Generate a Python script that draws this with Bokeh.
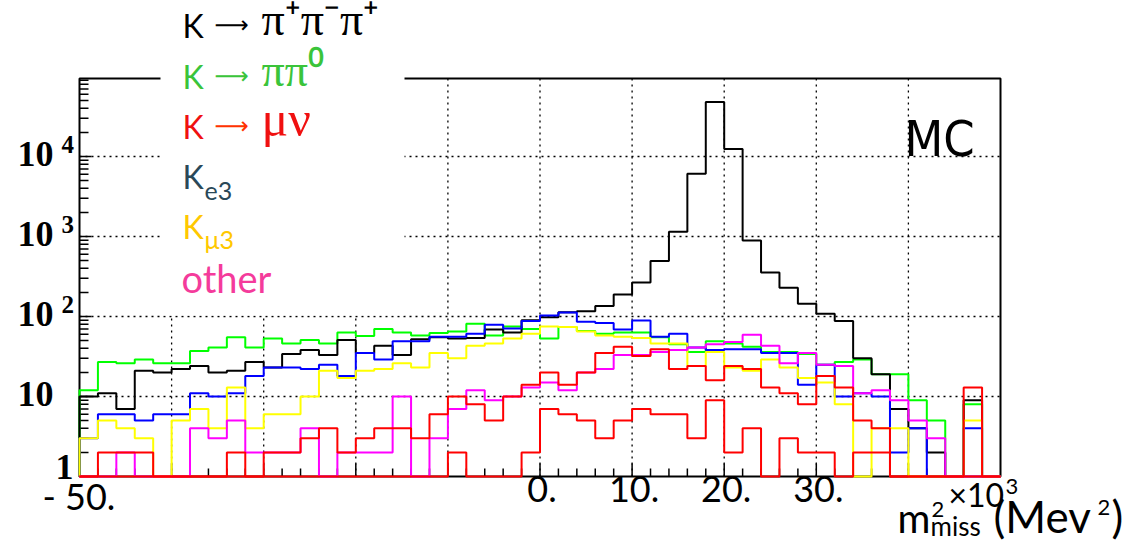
import numpy as np
from bokeh.plotting import figure
from bokeh.models import Range1d, Label, BoxAnnotation
from bokeh.embed import file_html
from bokeh.resources import INLINE

# ---------------- data (bin contents, 50 bins from -50 to 50, x10^3 MeV^2) -------------
BIN_LO, BIN_HI, N_BINS = -50.0, 50.0, 50

k3pi = [10, 11, 7, 21, 20, 22, 24, 20, 21, 27,
        23, 34, 38, 33, 51, 35, 43, 33, 52, 55,
        53, 54, 69, 63, 90, 98, 113, 116, 135, 189,
        267, 495, 1150, 6100, 48000, 12400, 890, 355, 228, 144,
        108, 88, 30, 19, 7, 4, 2, 0, 9, 0]
k2pi = [12, 27, 26, 29, 26, 26, 37, 41, 55, 41,
        53, 46, 51, 46, 63, 57, 70, 63, 58, 62,
        65, 81, 58, 75, 70, 53, 74, 66, 61, 63,
        63, 55, 45, 36, 49, 46, 42, 36, 36, 34,
        25, 27, 29, 19, 19, 9, 5, 0, 8, 0]
ke3 = [3, 6, 6, 5, 6, 6, 11, 10, 11, 18,
       23, 23, 22, 25, 18, 35, 29, 49, 49, 56,
       56, 61, 79, 71, 88, 103, 112, 86, 83, 69,
       89, 56, 61, 41, 38, 39, 39, 35, 35, 14,
       25, 10, 11, 10, 2, 4, 0, 0, 4, 0]
kmu3 = [3, 5, 4, 3, 0, 5, 7, 4, 13, 4,
        6, 6, 10, 21, 17, 21, 22, 26, 23, 35,
        30, 43, 46, 53, 61, 75, 74, 65, 58, 56,
        54, 46, 46, 24, 36, 23, 21, 29, 23, 17,
        15, 8, 0, 4, 4, 0, 0, 0, 5, 0]
other = [0, 0, 2, 0, 0, 0, 4, 3, 5, 2,
         2, 2, 4, 0, 2, 2, 2, 10, 0, 3,
         7, 12, 9, 10, 13, 15, 12, 20, 22, 33,
         33, 36, 38, 41, 45, 48, 59, 43, 26, 35,
         25, 24, 11, 12, 9, 5, 3, 0, 0, 0]
kmunu = [0, 2, 2, 2, 0, 0, 0, 0, 2, 0,
         2, 2, 3, 4, 2, 3, 4, 4, 3, 6,
         10, 8, 5, 10, 14, 20, 14, 20, 35, 42,
         32, 39, 22, 24, 16, 24, 22, 13, 11, 8,
         18, 13, 5, 4, 0, 0, 0, 0, 13, 0]
kmunu_b = [0, 0, 0, 0, 0, 0, 0, 0, 0, 0,
           0, 0, 0, 0, 0, 0, 0, 0, 0, 0,
           2, 0, 0, 0, 2, 7, 6, 5, 3, 5,
           7, 6, 6, 3, 9, 2, 4, 0, 3, 2,
           2, 0, 2, 2, 0, 0, 0, 0, 0, 0]

x_major = [-50, -40, -30, -20, -10, 0, 10, 20, 30, 40, 50]
x_minor = list(range(-50, 51, 2))
x_tick_labels = {-50: "- 50.", 0: "0.", 10: "10.", 20: "20.", 30: "30."}
y_major = [1, 10, 100, 1000, 10000]
y_minor = [m * 10 ** k for k in range(0, 5) for m in range(2, 10)]
y_exp_labels = {10: "", 100: "2", 1000: "3", 10000: "4"}

Y_MIN, Y_MAX = 1.0, 10 ** 4.975

# ---------------- layout (pixel box of the histogram frame) ----------------
W, H = 1147, 542
FL, FR, FT, FB = 79, 1000, 78, 476
LOG_SPAN = float(np.log10(Y_MAX / Y_MIN))


def X(px):
    return float(BIN_LO + (px - FL) * (BIN_HI - BIN_LO) / (FR - FL))


def Y(py):
    return float(Y_MIN * 10 ** ((FB - py) * LOG_SPAN / (FB - FT)))


def PY(v):
    return FB - (FB - FT) * float(np.log10(v / Y_MIN)) / LOG_SPAN


def PX(v):
    return FL + (v - BIN_LO) * (FR - FL) / (BIN_HI - BIN_LO)


# the plot area spans the whole page; the histogram frame is drawn inside it
p = figure(width=W, height=H, x_range=Range1d(X(0), X(W)),
           y_range=Range1d(Y(H), Y(0)), y_axis_type="log",
           x_axis_location=None, y_axis_location=None,
           output_backend="svg", toolbar_location=None, min_border=0)
p.background_fill_color = "white"
p.border_fill_color = "white"
p.outline_line_color = None
p.xgrid.visible = False
p.ygrid.visible = False

# dotted grid
gx = x_major[1:-1]
gy = y_major[1:]
p.segment(x0=gx, y0=[Y_MIN] * len(gx), x1=gx, y1=[Y_MAX] * len(gx),
          line_color="black", line_dash="2 4", line_width=1.3)
p.segment(x0=[BIN_LO] * len(gy), y0=gy, x1=[BIN_HI] * len(gy), y1=gy,
          line_color="black", line_dash="2 4", line_width=1.3)

# frame
p.quad(left=[BIN_LO], right=[BIN_HI], bottom=[Y_MIN], top=[Y_MAX],
       fill_color=None, line_color="black", line_width=2)

# inward ticks (ROOT style)
yt_maj = [v for v in y_major if v > Y_MIN]
yt_min = [v for v in y_minor if v < Y_MAX]
p.segment(x0=[BIN_LO] * len(yt_maj), y0=yt_maj, x1=[X(FL + 12)] * len(yt_maj), y1=yt_maj,
          line_color="black", line_width=1.5)
p.segment(x0=[BIN_LO] * len(yt_min), y0=yt_min, x1=[X(FL + 9)] * len(yt_min), y1=yt_min,
          line_color="black", line_width=1.5)
xt_maj = x_major[1:-1]
xt_min = [v for v in x_minor if v not in x_major]
p.segment(x0=xt_maj, y0=[Y_MIN] * len(xt_maj), x1=xt_maj, y1=[Y(FB - 13)] * len(xt_maj),
          line_color="black", line_width=1.5)
p.segment(x0=xt_min, y0=[Y_MIN] * len(xt_min), x1=xt_min, y1=[Y(FB - 8)] * len(xt_min),
          line_color="black", line_width=1.5)

# ---------------- histograms ----------------
edges = np.linspace(BIN_LO, BIN_HI, N_BINS + 1)


def outline(vals):
    v = np.asarray(vals, dtype=float)
    v = np.where(v > 0, v, Y_MIN)
    xs = np.repeat(edges, 2)
    ys = np.concatenate([[Y_MIN], np.repeat(v, 2), [Y_MIN]])
    return xs, ys


series = [(k2pi, "#00ff00"), (k3pi, "#000000"), (ke3, "#0000ff"),
          (kmu3, "#ffff00"), (other, "#ff00ff"), (kmunu, "#ff0000"),
          (kmunu_b, "#ff0000")]
for vals, col in series:
    xs, ys = outline(vals)
    p.line(xs, ys, line_color=col, line_width=2)

# white box of the overlaid legend (hides grid and frame there)
p.add_layout(BoxAnnotation(left=X(160), right=X(404), bottom=Y(315), top=Y(60),
                           fill_color="white", fill_alpha=1.0, line_color=None))

BASE_SHIFT = 0.39  # em: where the renderer puts the alphabetic baseline below the anchor


def lab(text, px, py, size, color="black", font="Lato", style="normal",
        align="left"):
    """py is the wanted baseline in page pixels"""
    p.add_layout(Label(x=X(px), y=Y(py - BASE_SHIFT * size), text=text, text_font=font,
                       text_font_size=f"{size}px", text_color=color,
                       text_font_style=style, text_align=align,
                       text_baseline="alphabetic"))


# y tick labels (ROOT style, bold serif)
lab("1", 55, 481, 36, font="Liberation Serif", style="bold")
for v, e in y_exp_labels.items():
    py = PY(v)
    lab("10", 17, py + 12, 36, font="Liberation Serif", style="bold")
    if e:
        lab(e, 61, py - 2, 25, font="Liberation Serif", style="bold")

# x tick labels
for v, t in x_tick_labels.items():
    if v == BIN_LO:
        lab(t, 42, 510, 36)
    else:
        lab(t, PX(v) + 2, 503, 36, align="center")

# axis exponent and title
lab("\u00d710", 948, 506, 32)
lab("3", 1005, 495, 22)
lab("m", 897, 533, 40)
lab("2", 931, 518, 22)
lab("miss", 930, 536, 26)
lab("(Mev", 993, 533, 44)
lab("2", 1097, 516, 22)
lab(")", 1111, 533, 44)

# MC tag
lab("MC", 904, 158, 50, font="DejaVu Sans Condensed")

# legend texts
GREEN_T, RED_T, KE3_T, KMU3_T, OTH_T = "#3ac43a", "#f01010", "#2a4858", "#ffc800", "#f43b9b"
ARROW = "\u27f6"
A_SIZE, A_X, A_DY = 24, 214, -3
# line 1
lab("K", 182, 37, 32)
lab(ARROW, A_X, 37 + A_DY, A_SIZE, font="DejaVu Sans")
lab("\u03c0\u207a\u03c0\u207b\u03c0\u207a", 261, 37, 46, font="Liberation Serif")
# line 2
lab("K", 182, 88, 32, color=GREEN_T)
lab(ARROW, A_X, 88 + A_DY, A_SIZE, color=GREEN_T, font="DejaVu Sans")
lab("\u03c0\u03c0\u2070", 261, 88, 46, color=GREEN_T, font="Liberation Serif")
# line 3
lab("K", 182, 138, 32, color=RED_T)
lab(ARROW, A_X, 138 + A_DY, A_SIZE, color="#ff3300", font="DejaVu Sans")
lab("\u03bc\u03bd", 261, 138, 50, color=RED_T, font="Liberation Serif")
# line 4
lab("K", 182, 188, 32, color=KE3_T)
lab("e3", 204, 200, 25, color=KE3_T)
# line 5
lab("K", 182, 238, 32, color=KMU3_T)
lab("\u03bc3", 204, 248, 25, color=KMU3_T)
# line 6
lab("other", 181, 292, 38, color=OTH_T)

open("out.html", "w").write(file_html(p, INLINE))
